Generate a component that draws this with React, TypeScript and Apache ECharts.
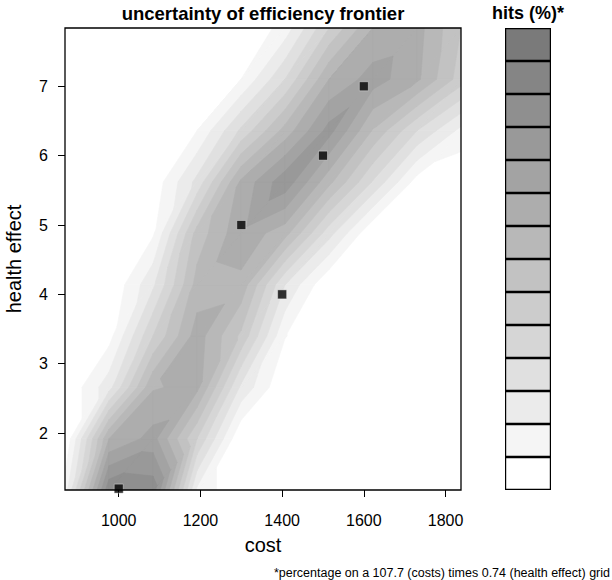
import React, { useEffect, useRef } from "react";
import * as echarts from "echarts";

// grid nodes of the hit-count surface (107.7 cost steps, 0.74 health-effect steps)
const costGrid = [868.5, 976.2, 1083.9, 1191.6, 1299.3, 1407.0, 1514.7, 1622.4, 1730.1, 1837.8];
const effectGrid = [1.18, 1.92, 2.66, 3.4, 4.14, 4.88, 5.62, 6.36, 7.1, 7.84];

// hits per grid node, one row per effectGrid value (bottom to top)
const hitsRow0 = [1.5, 11.8, 11.6, 1.8, 0, 0, 0, 0, 0, 0];
const hitsRow1 = [0, 8.0, 9.4, 5.0, 0, 0, 0, 0, 0, 0];
const hitsRow2 = [0, 2.6, 7.9, 8.3, 2.8, 0, 0, 0, 0, 0];
const hitsRow3 = [0, 0.6, 5.0, 8.5, 5.8, 1.05, 0, 0, 0, 0];
const hitsRow4 = [0, 0, 2.8, 7.4, 7.7, 3.0, 0, 0, 0, 0];
const hitsRow5 = [0, 0, 0.85, 6.4, 8.75, 7.4, 3.4, 0, 0, 0];
const hitsRow6 = [0, 0, 0.3, 3.3, 8.2, 10.7, 7.3, 3.9, 0.55, 0];
const hitsRow7 = [0, 0, 0, 1.0, 4.2, 7.4, 10.4, 6.9, 4.0, 1.7];
const hitsRow8 = [0, 0, 0, 0, 1.0, 4.0, 8.0, 9.5, 8.2, 5.5];
const hitsRow9 = [0, 0, 0, 0, 0, 1.4, 5.0, 8.0, 8.4, 6.0];

// contour levels (14 bands) and their grey fills
const hitsLevels = [0, 1, 2, 3, 4, 5, 6, 7, 8, 9, 10, 11, 12, 13, 14];
const levelColors = [
  "#ffffff", "#f5f5f5", "#ebebeb", "#e0e0e0", "#d6d6d6", "#cccccc", "#c2c2c2",
  "#b8b8b8", "#adadad", "#a3a3a3", "#999999", "#8f8f8f", "#858585", "#7a7a7a",
];

// efficiency frontier points
const frontierCost = [1000, 1300, 1400, 1500, 1600];
const frontierEffect = [1.2, 5, 4, 6, 7];

const xTicks = [1000, 1200, 1400, 1600, 1800];
const yTicks = [2, 3, 4, 5, 6, 7];

type P = number[];

function clipAbove(poly: P[], t: number): P[] {
  const out: P[] = [];
  for (let k = 0; k < poly.length; k++) {
    const p = poly[k];
    const q = poly[(k + 1) % poly.length];
    const pin = p[2] >= t;
    const qin = q[2] >= t;
    if (pin) out.push(p);
    if (pin !== qin) {
      const f = (t - p[2]) / (q[2] - p[2]);
      out.push([p[0] + f * (q[0] - p[0]), p[1] + f * (q[1] - p[1]), t]);
    }
  }
  return out;
}

const FONT = "Liberation Sans, Arial, Helvetica, sans-serif";

export default function App() {
  const ref = useRef<HTMLDivElement>(null);

  useEffect(() => {
    document.body.style.margin = "0";
    const chart = echarts.init(ref.current!, null, { renderer: "svg" });
    const hitsGrid = [
      hitsRow0, hitsRow1, hitsRow2, hitsRow3, hitsRow4,
      hitsRow5, hitsRow6, hitsRow7, hitsRow8, hitsRow9,
    ];

    const renderContour = (_params: any, api: any) => {
      const children: any[] = [];
      for (let k = 1; k < hitsLevels.length - 1; k++) {
        const t = hitsLevels[k];
        for (let j = 0; j < effectGrid.length - 1; j++) {
          for (let i = 0; i < costGrid.length - 1; i++) {
            const a = [costGrid[i], effectGrid[j], hitsGrid[j][i]];
            const b = [costGrid[i + 1], effectGrid[j], hitsGrid[j][i + 1]];
            const c = [costGrid[i + 1], effectGrid[j + 1], hitsGrid[j + 1][i + 1]];
            const d = [costGrid[i], effectGrid[j + 1], hitsGrid[j + 1][i]];
            const tris = [[a, b, c], [a, c, d]];
            for (const tri of tris) {
              if (Math.max(tri[0][2], tri[1][2], tri[2][2]) < t) continue;
              const poly = clipAbove(tri, t);
              if (poly.length < 3) continue;
              children.push({
                type: "polygon",
                silent: true,
                shape: { points: poly.map((p) => api.coord([p[0], p[1]])) },
                style: { fill: levelColors[k], stroke: levelColors[k], lineWidth: 0.6 },
              });
            }
          }
        }
      }
      return { type: "group", children };
    };

    const option: any = {
      animation: false,
      backgroundColor: "#ffffff",
      textStyle: { fontFamily: FONT },
      grid: [
        { left: 65, top: 28, width: 396, height: 462, outerBoundsMode: "none", containLabel: false },
        { left: 505, top: 28, width: 46, height: 462, outerBoundsMode: "none", containLabel: false },
      ],
      xAxis: [
        {
          type: "value",
          gridIndex: 0,
          min: costGrid[0],
          max: costGrid[costGrid.length - 1],
          name: "cost",
          nameLocation: "middle",
          nameGap: 45,
          nameTextStyle: { fontSize: 20, color: "#000", fontFamily: FONT },
          axisLine: { show: false },
          axisTick: {
            show: true,
            inside: false,
            length: 7,
            customValues: xTicks,
            lineStyle: { color: "#000", width: 1 },
          },
          axisLabel: {
            customValues: xTicks,
            margin: 22,
            fontSize: 16,
            color: "#000",
            fontFamily: FONT,
            formatter: (v: number) => String(v),
          },
          splitLine: { show: false },
        },
        { type: "value", gridIndex: 1, min: 0, max: 1, show: false },
      ],
      yAxis: [
        {
          type: "value",
          gridIndex: 0,
          min: effectGrid[0],
          max: effectGrid[effectGrid.length - 1],
          name: "health effect",
          nameLocation: "middle",
          nameGap: 41,
          nameRotate: 90,
          nameTextStyle: { fontSize: 20, color: "#000", fontFamily: FONT },
          axisLine: { show: false },
          axisTick: {
            show: true,
            inside: false,
            length: 7,
            customValues: yTicks,
            lineStyle: { color: "#000", width: 1 },
          },
          axisLabel: {
            customValues: yTicks,
            margin: 17,
            fontSize: 16,
            color: "#000",
            fontFamily: FONT,
            formatter: (v: number) => String(v),
          },
          splitLine: { show: false },
        },
        {
          type: "category",
          gridIndex: 1,
          data: levelColors.map((_, k) => String(hitsLevels[k])),
          show: false,
        },
      ],
      series: [
        {
          type: "custom",
          xAxisIndex: 0,
          yAxisIndex: 0,
          coordinateSystem: "cartesian2d",
          clip: true,
          silent: true,
          z: 1,
          data: [[frontierCost[0], frontierEffect[0]]],
          encode: { x: 0, y: 1 },
          renderItem: renderContour,
        },
        {
          type: "scatter",
          xAxisIndex: 0,
          yAxisIndex: 0,
          z: 5,
          symbol: "rect",
          symbolSize: 9,
          itemStyle: { color: "#000", borderColor: "#ffffff", borderWidth: 0.5 },
          data: frontierCost.map((c, k) => [c, frontierEffect[k]]),
        },
        {
          type: "bar",
          xAxisIndex: 1,
          yAxisIndex: 1,
          barWidth: "100%",
          barCategoryGap: "0%",
          silent: true,
          data: levelColors.map((col) => ({
            value: 1,
            itemStyle: { color: col, borderColor: "#000", borderWidth: 1.2 },
          })),
        },
      ],
      graphic: [
        {
          type: "rect",
          z: 100,
          silent: true,
          shape: { x: 65, y: 28, width: 396, height: 462 },
          style: { fill: "none", stroke: "#000", lineWidth: 1.3 },
        },
        {
          type: "text",
          x: 263,
          y: 13,
          style: {
            text: "uncertainty of efficiency frontier",
            fontSize: 18.5,
            fontWeight: "bold",
            fontFamily: FONT,
            fill: "#000",
            align: "center",
            verticalAlign: "middle",
          },
        },
        {
          type: "text",
          x: 528,
          y: 13,
          style: {
            text: "hits (%)*",
            fontSize: 18,
            fontWeight: "bold",
            fontFamily: FONT,
            fill: "#000",
            align: "center",
            verticalAlign: "middle",
          },
        },
        {
          type: "text",
          x: 610,
          y: 573,
          style: {
            text: "*percentage on a 107.7 (costs) times 0.74 (health effect) grid",
            fontSize: 12.5,
            fontFamily: FONT,
            fill: "#000",
            align: "right",
            verticalAlign: "middle",
          },
        },
      ],
    };

    chart.setOption(option);
    return () => chart.dispose();
  }, []);

  return <div ref={ref} style={{ width: 612, height: 580 }} />;
}
